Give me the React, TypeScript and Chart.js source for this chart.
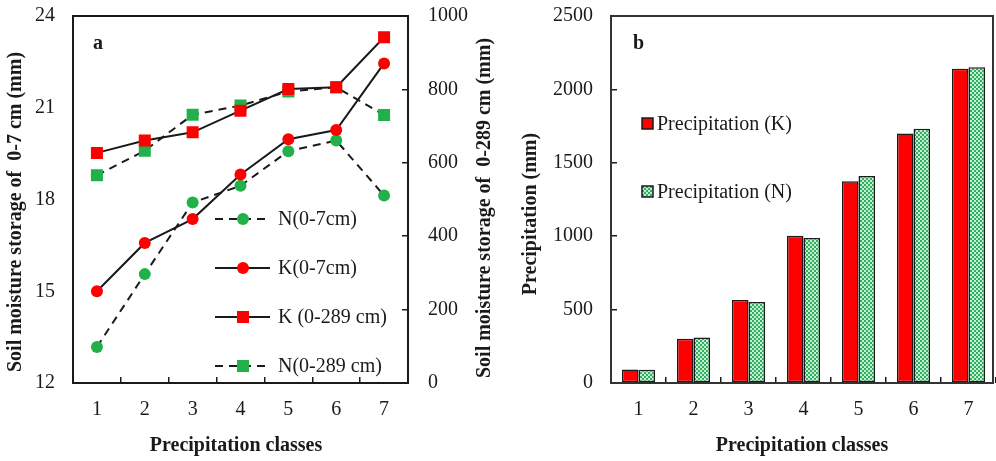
import React, { useEffect, useRef } from 'react';
import { Chart, registerables } from 'chart.js';

Chart.register(...registerables);

// ---------- data ----------
const categories = ['1', '2', '3', '4', '5', '6', '7'];
const kSoil07 = [15.0, 16.58, 17.36, 18.82, 19.97, 20.27, 22.45];
const nSoil07 = [13.18, 15.56, 17.9, 18.45, 19.58, 19.93, 18.13];
const kSoil289 = [627, 661, 683, 742, 801, 806, 942];
const nSoil289 = [566, 633, 731, 756, 794, 806, 730];
const precipK = [92, 301, 566, 1003, 1374, 1700, 2140];
const precipN = [90, 310, 552, 987, 1410, 1732, 2151];

const leftYTicks = [12, 15, 18, 21, 24];
const rightYTicks = [0, 200, 400, 600, 800, 1000];
const precipTicks = [0, 500, 1000, 1500, 2000, 2500];

const xTitle = 'Precipitation classes';
const leftYTitle = 'Soil moisture storage of  0-7 cm (mm)';
const rightYTitle = 'Soil moisture storage of  0-289 cm (mm)';
const precipYTitle = 'Precipitation (mm)';

// ---------- styles ----------
const FONT = '"Liberation Serif", "Times New Roman", serif';
const INK = '#1a1a1a';
const RED = '#ff0000';
const GREEN = '#22b04b';

function makePattern(ctx: CanvasRenderingContext2D) {
  const c = document.createElement('canvas');
  c.width = 4;
  c.height = 4;
  const g = c.getContext('2d')!;
  g.fillStyle = '#c4efd0';
  g.fillRect(0, 0, 4, 4);
  g.fillStyle = '#2fae62';
  g.fillRect(0, 0, 2, 2);
  g.fillRect(2, 2, 2, 2);
  return ctx.createPattern(c, 'repeat')!;
}

function drawRotated(ctx: CanvasRenderingContext2D, text: string, x: number, y: number) {
  ctx.save();
  ctx.translate(x, y);
  ctx.rotate(-Math.PI / 2);
  ctx.textAlign = 'center';
  ctx.textBaseline = 'middle';
  ctx.fillText(text, 0, 0);
  ctx.restore();
}

const leftDecor = {
  id: 'leftDecor',
  afterDraw(chart: any) {
    const { ctx, chartArea: a } = chart;
    ctx.save();
    ctx.strokeStyle = INK;
    ctx.lineWidth = 2;
    ctx.setLineDash([]);
    ctx.strokeRect(a.left, a.top, a.right - a.left, a.bottom - a.top);

    ctx.fillStyle = INK;
    ctx.font = `bold 20px ${FONT}`;
    ctx.textAlign = 'left';
    ctx.textBaseline = 'middle';
    ctx.fillText('a', 93, 44);
    ctx.textAlign = 'center';
    ctx.fillText(xTitle, 236, 446);
    drawRotated(ctx, leftYTitle, 16, 212);
    drawRotated(ctx, rightYTitle, 485, 208);

    // legend
    const ds = chart.data.datasets;
    const order = [1, 0, 2, 3];
    const ys = [219, 268, 317, 366];
    order.forEach((di: number, i: number) => {
      const d = ds[di];
      const y = ys[i];
      ctx.strokeStyle = INK;
      ctx.lineWidth = 2;
      ctx.setLineDash(d.borderDash && d.borderDash.length ? [8, 6] : []);
      ctx.beginPath();
      ctx.moveTo(215, y);
      ctx.lineTo(270, y);
      ctx.stroke();
      ctx.setLineDash([]);
      ctx.fillStyle = d.pointBackgroundColor;
      if (d.pointStyle === 'rect') {
        ctx.fillRect(243 - 6, y - 6, 12, 12);
      } else {
        ctx.beginPath();
        ctx.arc(243, y, 6, 0, Math.PI * 2);
        ctx.fill();
      }
      ctx.fillStyle = INK;
      ctx.font = `20px ${FONT}`;
      ctx.textAlign = 'left';
      ctx.textBaseline = 'middle';
      ctx.fillText(d.label, 278, y + 1);
    });
    ctx.restore();
  },
};

const rightDecor = {
  id: 'rightDecor',
  afterDraw(chart: any) {
    const { ctx, chartArea: a } = chart;
    ctx.save();
    ctx.strokeStyle = '#333';
    ctx.lineWidth = 2;
    ctx.strokeRect(a.left, a.top, a.right - 3 - a.left, a.bottom - a.top);

    ctx.fillStyle = INK;
    ctx.font = `bold 20px ${FONT}`;
    ctx.textAlign = 'left';
    ctx.textBaseline = 'middle';
    ctx.fillText('b', 133, 44);
    ctx.textAlign = 'center';
    ctx.fillText(xTitle, 302, 446);
    drawRotated(ctx, precipYTitle, 31, 214);

    const ds = chart.data.datasets;
    const ys = [124, 192];
    ds.forEach((d: any, i: number) => {
      const y = ys[i];
      ctx.fillStyle = d.backgroundColor;
      ctx.fillRect(142, y - 6, 11, 11);
      ctx.strokeStyle = INK;
      ctx.lineWidth = 1.5;
      ctx.strokeRect(142, y - 6, 11, 11);
      ctx.fillStyle = INK;
      ctx.font = `20px ${FONT}`;
      ctx.textAlign = 'left';
      ctx.textBaseline = 'middle';
      ctx.fillText(d.label, 157, y + 1);
    });
    ctx.restore();
  },
};

const tickFont = { family: FONT, size: 20 };
const plain = (v: any) => String(v);
const fitY = (w: number) => (s: any) => {
  s.width = w;
  s.paddingTop = 0;
  s.paddingBottom = 0;
};
const fitX = (s: any) => {
  s.height = 78;
  s.paddingLeft = 0;
  s.paddingRight = 0;
};

export default function App() {
  const leftRef = useRef<HTMLCanvasElement>(null);
  const rightRef = useRef<HTMLCanvasElement>(null);

  useEffect(() => {
    const lc = leftRef.current!;
    const rc = rightRef.current!;

    const left = new Chart(lc, {
      type: 'line',
      data: {
        labels: categories,
        datasets: [
          {
            label: 'K(0-7cm)',
            data: kSoil07,
            yAxisID: 'y',
            borderColor: INK,
            borderWidth: 2,
            pointStyle: 'circle',
            pointRadius: 6,
            pointBackgroundColor: RED,
            pointBorderColor: RED,
            pointBorderWidth: 0,
            tension: 0,
          },
          {
            label: 'N(0-7cm)',
            data: nSoil07,
            yAxisID: 'y',
            borderColor: INK,
            borderWidth: 2,
            borderDash: [8, 6],
            pointStyle: 'circle',
            pointRadius: 6,
            pointBackgroundColor: GREEN,
            pointBorderColor: GREEN,
            pointBorderWidth: 0,
            tension: 0,
          },
          {
            label: 'K (0-289 cm)',
            data: kSoil289,
            yAxisID: 'y1',
            borderColor: INK,
            borderWidth: 2,
            pointStyle: 'rect',
            pointRadius: 8.5,
            pointBackgroundColor: RED,
            pointBorderColor: RED,
            pointBorderWidth: 0,
            tension: 0,
          },
          {
            label: 'N(0-289 cm)',
            data: nSoil289,
            yAxisID: 'y1',
            borderColor: INK,
            borderWidth: 2,
            borderDash: [8, 6],
            pointStyle: 'rect',
            pointRadius: 8.5,
            pointBackgroundColor: GREEN,
            pointBorderColor: GREEN,
            pointBorderWidth: 0,
            tension: 0,
          },
        ],
      } as any,
      options: {
        animation: false,
        responsive: true,
        maintainAspectRatio: false,
        events: [],
        layout: { padding: { top: 16, left: 0, right: 0, bottom: 0 } },
        plugins: { legend: { display: false }, tooltip: { enabled: false } },
        scales: {
          x: {
            type: 'category',
            offset: true,
            grid: { offset: true, drawOnChartArea: false, tickLength: -6, color: INK, lineWidth: 1.5 },
            border: { display: false },
            ticks: { font: tickFont, color: INK, padding: 21 },
            afterFit: fitX,
          },
          y: {
            position: 'left',
            min: 12,
            max: 24,
            afterBuildTicks: (s: any) => { s.ticks = leftYTicks.map((v) => ({ value: v })); },
            grid: { drawOnChartArea: false, drawTicks: false },
            border: { display: false },
            ticks: { font: tickFont, color: INK, padding: 18, callback: plain },
            afterFit: fitY(73),
          },
          y1: {
            position: 'right',
            min: 0,
            max: 1000,
            afterBuildTicks: (s: any) => { s.ticks = rightYTicks.map((v) => ({ value: v })); },
            grid: { drawOnChartArea: false, tickLength: -6, color: INK, lineWidth: 1.5 },
            border: { display: false },
            ticks: { font: tickFont, color: INK, padding: 26, callback: plain },
            afterFit: fitY(92),
          },
        },
      } as any,
      plugins: [leftDecor],
    });

    const pattern = makePattern(rc.getContext('2d')!);

    const right = new Chart(rc, {
      type: 'bar',
      data: {
        labels: categories,
        datasets: [
          {
            label: 'Precipitation (K)',
            data: precipK,
            backgroundColor: RED,
            borderColor: INK,
            borderWidth: 1.5,
            borderSkipped: false,
            categoryPercentage: 0.6,
            barPercentage: 1.0,
          },
          {
            label: 'Precipitation (N)',
            data: precipN,
            backgroundColor: pattern,
            borderColor: INK,
            borderWidth: 1.5,
            borderSkipped: false,
            categoryPercentage: 0.6,
            barPercentage: 1.0,
          },
        ],
      } as any,
      options: {
        animation: false,
        responsive: true,
        maintainAspectRatio: false,
        events: [],
        layout: { padding: { top: 16, left: 0, right: 0, bottom: 0 } },
        plugins: { legend: { display: false }, tooltip: { enabled: false } },
        scales: {
          x: {
            type: 'category',
            offset: true,
            grid: { offset: true, drawOnChartArea: false, tickLength: -6, color: INK, lineWidth: 1.5 },
            border: { display: false },
            ticks: { font: tickFont, color: INK, padding: 21 },
            afterFit: fitX,
          },
          y: {
            position: 'left',
            min: 0,
            max: 2500,
            afterBuildTicks: (s: any) => { s.ticks = precipTicks.map((v) => ({ value: v })); },
            grid: { drawOnChartArea: false, tickLength: -6, color: INK, lineWidth: 1.5 },
            border: { display: false },
            ticks: { font: tickFont, color: INK, padding: 24, callback: plain },
            afterFit: fitY(111),
          },
        },
      } as any,
      plugins: [rightDecor],
    });

    return () => {
      left.destroy();
      right.destroy();
    };
  }, []);

  return (
    <div style={{ position: 'absolute', left: 0, top: 0, width: 996, height: 461, background: '#fff' }}>
      <div style={{ position: 'absolute', left: 0, top: 0, width: 500, height: 461 }}>
        <canvas ref={leftRef} />
      </div>
      <div style={{ position: 'absolute', left: 500, top: 0, width: 496, height: 461 }}>
        <canvas ref={rightRef} />
      </div>
    </div>
  );
}
